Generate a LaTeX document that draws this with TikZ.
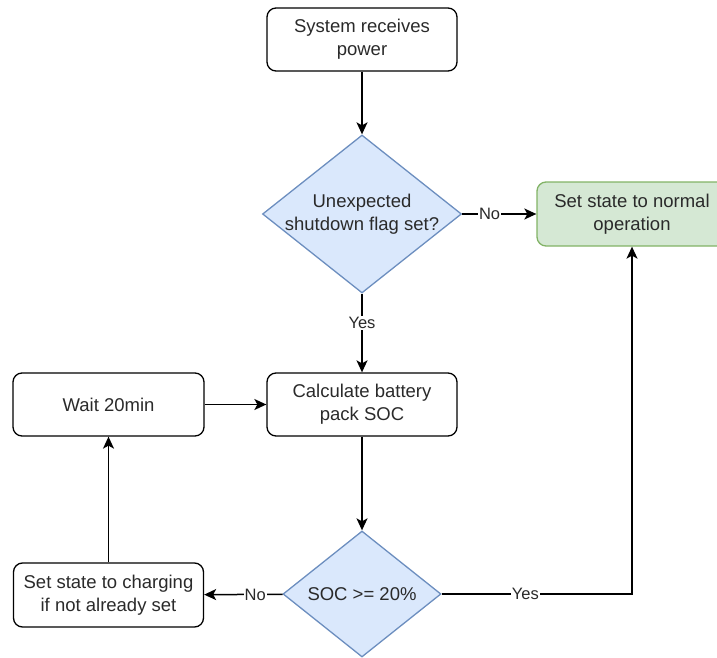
\documentclass[tikz,border=0pt]{standalone}
\usepackage{fontspec}
\setmainfont{Liberation Sans}
\usetikzlibrary{shapes.geometric,arrows.meta}
\definecolor{bluefill}{HTML}{DAE8FC}
\definecolor{blueline}{HTML}{6C8EBF}
\definecolor{greenfill}{HTML}{D5E8D4}
\definecolor{greenline}{HTML}{82B366}
\definecolor{txt}{HTML}{2A2A2A}
\begin{document}
\begin{tikzpicture}[x=1pt,y=-1pt,
  font=\fontsize{18.5}{23}\selectfont,
  procbox/.style={draw=black, line width=1.3pt, rounded corners=9pt, minimum width=190pt, minimum height=63pt, align=center, text=txt, inner sep=0pt},
  decbox/.style={diamond, draw=blueline, fill=bluefill, line width=1.3pt, align=center, text=txt, inner sep=-8pt, shape aspect=1.26},
  okbox/.style={procbox, draw=greenline, fill=greenfill},
  flow/.style={draw=black, line width=1.5pt, -{Stealth[length=12pt,width=11pt,inset=3pt]}},
  lbl/.style={fill=white, inner sep=1pt, font=\fontsize{16.5}{20}\selectfont, text=txt}]
\useasboundingbox (0,0) rectangle (717,658);
\node[procbox] (power) at (362,39.5) {System receives\\power};
\node[decbox, minimum width=199pt, minimum height=158pt] (flag) at (362,214) {Unexpected\\shutdown flag set?};
\node[okbox, minimum height=64pt] (normal) at (632,214) {Set state to normal\\operation};
\node[procbox] (calc) at (362,404.5) {Calculate battery\\pack SOC};
\node[procbox, minimum width=191pt] (wait) at (108.5,404.5) {Wait 20min};
\node[decbox, minimum width=158pt, minimum height=126pt] (soc) at (362,594) {SOC >= 20\%};
\node[procbox, minimum height=64pt] (charge) at (108.5,595) {Set state to charging\\if not already set};
\draw[flow] (power) -- (flag);
\draw[flow] (flag) -- node[lbl, pos=0.37] {No} (normal);
\draw[flow] (flag) -- node[lbl, pos=0.37] {Yes} (calc);
\draw[flow] (wait) -- (calc);
\draw[flow] (calc) -- (soc);
\draw[flow] (soc) -- node[lbl, pos=0.35] {No} (charge);
\draw[flow] (charge) -- (wait);
\draw[flow] (soc.east) -| node[lbl, pos=0.22] {Yes} (normal.south);
\end{tikzpicture}
\end{document}
